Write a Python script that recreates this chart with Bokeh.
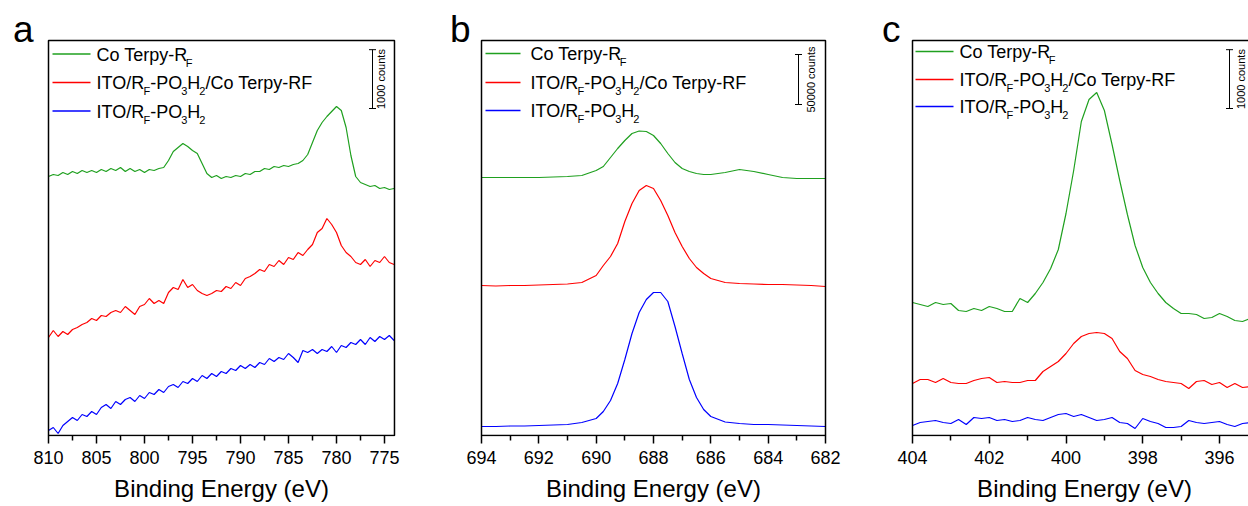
from bokeh.plotting import figure
from bokeh.layouts import row
from bokeh.models import (Range1d, Label, Arrow, TeeHead, BoxAnnotation, FixedTicker, Title)
from bokeh.embed import file_html
from bokeh.resources import INLINE

FONT = "Liberation Sans"
GREEN = "#1fa01f"
RED = "#ff0000"
BLUE = "#0000ff"

# ---------------- data ----------------
energy_a = [810.0, 809.5, 809.0, 808.5, 808.0, 807.5, 807.0, 806.5, 806.0, 805.5,
            805.0, 804.5, 804.0, 803.5, 803.0, 802.5, 802.0, 801.5, 801.0, 800.5,
            800.0, 799.5, 799.0, 798.5, 798.0, 797.5, 797.0, 796.5, 796.0, 795.5,
            795.0, 794.5, 794.0, 793.5, 793.0, 792.5, 792.0, 791.5, 791.0, 790.5,
            790.0, 789.5, 789.0, 788.5, 788.0, 787.5, 787.0, 786.5, 786.0, 785.5,
            785.0, 784.5, 784.0, 783.5, 783.0, 782.5, 782.0, 781.5, 781.0, 780.5,
            780.0, 779.5, 779.0, 778.5, 778.0, 777.5, 777.0, 776.5, 776.0, 775.5,
            775.0, 774.5, 774.0]
co_terpy_a = [4403, 4437, 4420, 4471, 4437, 4488, 4454, 4505, 4471, 4505,
              4471, 4522, 4488, 4539, 4505, 4556, 4488, 4539, 4488, 4522,
              4471, 4522, 4505, 4539, 4556, 4675, 4828, 4896, 4964, 4913,
              4845, 4794, 4624, 4454, 4386, 4420, 4369, 4403, 4386, 4420,
              4403, 4454, 4437, 4488, 4488, 4539, 4522, 4573, 4556, 4590,
              4573, 4607, 4624, 4675, 4777, 4981, 5185, 5321, 5423, 5508,
              5593, 5525, 5236, 4760, 4403, 4301, 4267, 4233, 4250, 4199,
              4216, 4182, 4199]
ito_co_a = [1666, 1785, 1683, 1768, 1717, 1802, 1836, 1887, 1921, 1989,
            1955, 2040, 2023, 2091, 2125, 2091, 2193, 2125, 2057, 2193,
            2227, 2329, 2244, 2295, 2244, 2431, 2516, 2482, 2652, 2516,
            2567, 2465, 2414, 2380, 2414, 2465, 2448, 2533, 2499, 2601,
            2550, 2669, 2703, 2754, 2822, 2788, 2907, 2873, 2975, 2907,
            3026, 2992, 3111, 3060, 3162, 3247, 3451, 3519, 3689, 3587,
            3451, 3230, 3111, 3043, 2941, 2907, 2992, 2873, 2975, 2941,
            3043, 2941, 2907]
ito_a = [85, 136, 34, 170, 238, 306, 255, 357, 323, 408,
         357, 476, 527, 459, 578, 527, 612, 646, 578, 680,
         629, 731, 697, 782, 731, 833, 867, 816, 918, 884,
         969, 918, 1020, 969, 1054, 1003, 1088, 1054, 1139, 1105,
         1190, 1139, 1207, 1156, 1241, 1207, 1309, 1258, 1326, 1292,
         1394, 1326, 1241, 1445, 1411, 1462, 1394, 1462, 1428, 1513,
         1411, 1530, 1496, 1581, 1547, 1632, 1547, 1666, 1598, 1683,
         1632, 1700, 1615]

energy_b = [694.0, 693.5, 693.0, 692.5, 692.0, 691.5, 691.0, 690.5,
            690.0, 689.75, 689.5, 689.25, 689.0, 688.75, 688.5, 688.25, 688.0,
            687.75, 687.5, 687.25, 687.0, 686.75, 686.5, 686.25, 686.0,
            685.5, 685.0, 684.5, 684.0, 683.5, 683.0, 682.5, 682.0]
co_terpy_b = [258000, 258000, 258000, 258000, 258000, 258500, 259000, 260000,
              265000, 269000, 278000, 287000, 295000, 302000, 304500, 304000, 300000,
              292000, 282000, 273000, 267000, 264000, 262000, 261000, 261000,
              263000, 266000, 264000, 261000, 258000, 257000, 257000, 257000]
ito_co_b = [150000, 149500, 150000, 150000, 150500, 151000, 151500, 153000,
            160000, 170000, 179000, 192000, 214000, 232000, 245000, 250000, 247000,
            235000, 220000, 203000, 189000, 177000, 168000, 162000, 157000,
            153000, 152000, 151500, 151000, 151000, 150500, 150000, 149000]
ito_b = [9000, 9000, 9500, 9500, 10000, 10500, 11000, 13000,
         17000, 24000, 35000, 52000, 76000, 102000, 123000, 136000, 143000,
         143000, 134000, 109000, 82000, 56000, 38000, 26000, 19000,
         13500, 12000, 11000, 11000, 10500, 10000, 9500, 9000]

energy_c = [404.0, 403.8, 403.6, 403.4, 403.2, 403.0, 402.8, 402.6, 402.4, 402.2,
            402.0, 401.8, 401.6, 401.4, 401.2, 401.0, 400.8, 400.6, 400.4, 400.2,
            400.0, 399.8, 399.6, 399.4, 399.2, 399.0, 398.8, 398.6, 398.4, 398.2,
            398.0, 397.8, 397.6, 397.4, 397.2, 397.0, 396.8, 396.6, 396.4, 396.2,
            396.0, 395.8, 395.6, 395.4, 395.2]
co_terpy_c = [2261, 2227, 2193, 2261, 2227, 2244, 2125, 2108, 2159, 2125,
              2193, 2159, 2108, 2108, 2329, 2261, 2414, 2601, 2839, 3162,
              3774, 4505, 5338, 5712, 5831, 5525, 4947, 4335, 3757, 3230,
              2856, 2601, 2414, 2261, 2159, 2074, 2074, 2057, 1989, 2006,
              2074, 2023, 1955, 1938, 1989]
ito_co_c = [884, 952, 952, 901, 969, 901, 884, 884, 935, 969,
            986, 901, 918, 901, 901, 935, 935, 1088, 1173, 1258,
            1394, 1564, 1683, 1734, 1751, 1734, 1649, 1428, 1309, 1105,
            1037, 1003, 952, 918, 901, 884, 799, 918, 935, 867,
            901, 816, 884, 816, 833]
ito_c = [170, 221, 238, 255, 221, 204, 272, 187, 306, 289,
         306, 255, 272, 238, 255, 306, 272, 255, 306, 357,
         374, 323, 357, 306, 255, 272, 306, 221, 204, 119,
         289, 238, 204, 136, 136, 153, 255, 221, 204, 221,
         238, 187, 153, 204, 221]

ticks_a = [810, 805, 800, 795, 790, 785, 780, 775]
minor_a = [807.5, 802.5, 797.5, 792.5, 787.5, 782.5, 777.5]
ticks_b = [694, 692, 690, 688, 686, 684, 682]
minor_b = [693, 691, 689, 687, 685, 683]
ticks_c = [404, 402, 400, 398, 396]
minor_c = [403, 401, 399, 397]

x_axis_title = "Binding Energy (eV)"
panel_letters = ["a", "b", "c"]
scale_labels = ["1000 counts", "50000 counts", "1000 counts"]
scale_values = [1000, 50000, 1000]
y_max = [6715, 395000, 6715]

# legend text split into normal / subscript pieces
legend_pieces = [
    [("Co Terpy-R", 0), ("F", 1)],
    [("ITO/R", 0), ("F", 1), ("-PO", 0), ("3", 1), ("H", 0), ("2", 1), ("/Co Terpy-RF", 0)],
    [("ITO/R", 0), ("F", 1), ("-PO", 0), ("3", 1), ("H", 0), ("2", 1)],
]
colors = [GREEN, RED, BLUE]

# ---------------- layout helpers (page pixels) ----------------
INNER_TOP, INNER_BOTTOM = 40, 435
FRAME_H = 436
ARIAL_W = {' ': 278, '-': 333, '/': 278, 'C': 722, 'o': 556, 'T': 611, 'e': 556,
           'r': 333, 'p': 556, 'y': 500, 'R': 722, 'F': 611, 'I': 278, 'O': 778,
           'P': 667, 'H': 722, '3': 556, '2': 556, 'B': 667, 'i': 222, 'n': 556,
           'd': 556, 'g': 556, 'E': 667, '(': 333, ')': 333, 'V': 667}
KERN = {('T', 'e'): -111, (' ', 'T'): -18, ('y', '-'): -20}
MAIN_FS, SUB_FS = 18, 11
MID = 0.3465  # distance from text middle to alphabetic baseline, in em


def text_w(s, size):
    w = sum(ARIAL_W.get(ch, 556) for ch in s)
    w += sum(KERN.get((a, b), 0) for a, b in zip(s, s[1:]))
    return w / 1000.0 * size


def make_panel(idx, energies, series, ticks, minors, canvas_left, frame_left, frame_right,
               canvas_right, inner_left, e_left, e_right, ppe, title_center, leg, bar, letter_x):
    ymax = y_max[idx]
    cpp = ymax / (INNER_BOTTOM - INNER_TOP)

    def X(px):
        return e_left - (px - inner_left) / ppe

    def Y(py):
        return (INNER_BOTTOM - py) * cpp

    p = figure(frame_width=frame_right - frame_left, frame_height=FRAME_H,
               min_border_left=frame_left - canvas_left,
               min_border_right=canvas_right - frame_right,
               min_border_top=0, min_border_bottom=70,
               x_range=Range1d(X(frame_left), X(frame_right)),
               y_range=Range1d(Y(FRAME_H), Y(0)),
               output_backend="svg", toolbar_location=None, title=None)
    p.background_fill_color = "white"
    p.border_fill_color = "white"
    p.outline_line_color = None
    p.grid.visible = False
    p.yaxis.visible = False

    ax = p.xaxis[0]
    ax.ticker = FixedTicker(ticks=ticks, minor_ticks=minors)
    ax.axis_line_color = None
    ax.major_label_text_font = FONT
    ax.major_label_text_font_size = "18px"
    ax.major_label_text_color = "black"
    ax.major_label_standoff = 7
    ax.major_tick_line_color = "black"
    ax.major_tick_line_width = 1.5
    ax.minor_tick_line_color = "black"
    ax.minor_tick_line_width = 1.5
    ax.major_tick_in = 1
    ax.major_tick_out = 7
    ax.minor_tick_in = 1
    ax.minor_tick_out = 4

    title_left = title_center - text_w(x_axis_title, 24) / 2
    t = Title(text=x_axis_title, align="left", offset=title_left - frame_left,
              text_font=FONT, text_font_size="24px", text_font_style="normal",
              text_color="black", standoff=0)
    try:
        t.padding = dict(left=0, right=0, top=6, bottom=0)
    except Exception:
        t.standoff = 4
    p.add_layout(t, "below")

    # plot box
    p.add_layout(BoxAnnotation(left=e_left, right=e_right, bottom=0, top=ymax,
                               fill_color=None, fill_alpha=0, line_color="black",
                               line_width=1.5, line_alpha=1.0))

    for vals, col in zip(series, colors):
        p.line(energies, vals, line_color=col, line_width=1.2)

    # legend
    lx0, lx1, tx, rows = leg
    for pieces, col, ly in zip(legend_pieces, colors, rows):
        p.add_layout(Arrow(end=None, start=None, x_start=X(lx0), y_start=Y(ly),
                           x_end=X(lx1), y_end=Y(ly), line_color=col, line_width=1.5))
        cur = tx
        for txt, sub in pieces:
            size = SUB_FS if sub else MAIN_FS
            base = ly + 7 + (5.5 if sub else 0)
            xx = cur - (1.0 if sub else 0)
            p.add_layout(Label(x=X(xx), y=Y(base - MID * size), text=txt, text_font=FONT,
                               text_font_size=f"{size}px", text_color="black",
                               text_baseline="middle", text_align="left"))
            cur += text_w(txt, size) - (1.0 if sub else 0)

    # scale bar
    bx, bpy, tx_bar = bar
    y0 = Y(bpy)
    y1 = y0 + scale_values[idx]
    p.add_layout(Arrow(start=TeeHead(size=7, line_width=1, line_color="black"),
                       end=TeeHead(size=7, line_width=1, line_color="black"),
                       x_start=X(bx), y_start=y0, x_end=X(bx), y_end=y1,
                       line_color="black", line_width=1))
    p.add_layout(Label(x=X(tx_bar), y=(y0 + y1) / 2, text=scale_labels[idx],
                       angle=90, angle_units="deg", text_align="center",
                       text_baseline="middle", text_font=FONT,
                       text_font_size="11px", text_color="black"))

    # panel letter
    p.add_layout(Label(x=X(letter_x), y=Y(42 - MID * 37), text=panel_letters[idx],
                       text_font=FONT, text_font_size="37px", text_color="black",
                       text_baseline="middle", text_align="left"))
    return p


pa = make_panel(0, energy_a, [co_terpy_a, ito_co_a, ito_a], ticks_a, minor_a,
                0, 8, 434, 442, 48, 810, 773.96, 9.6, 221,
                (52, 90, 96, [53.5, 82, 110.5]), (372, 108, 380), 12.5)
pb = make_panel(1, energy_b, [co_terpy_b, ito_co_b, ito_b], ticks_b, minor_b,
                442, 445, 861, 864, 481, 694, 682, 344 / 12, 653,
                (485, 520, 530, [53, 82, 110]), (798, 104, 810), 449.5)
pc = make_panel(2, energy_c, [co_terpy_c, ito_co_c, ito_c], ticks_c, minor_c,
                864, 876, 1248, 1248, 912, 404, 394.9, 38.375, 1084,
                (915, 953, 959, [51, 79, 106]), (1229, 108, 1240), 881.5)

layout = row(pa, pb, pc)
open("out.html", "w").write(file_html(layout, INLINE))
